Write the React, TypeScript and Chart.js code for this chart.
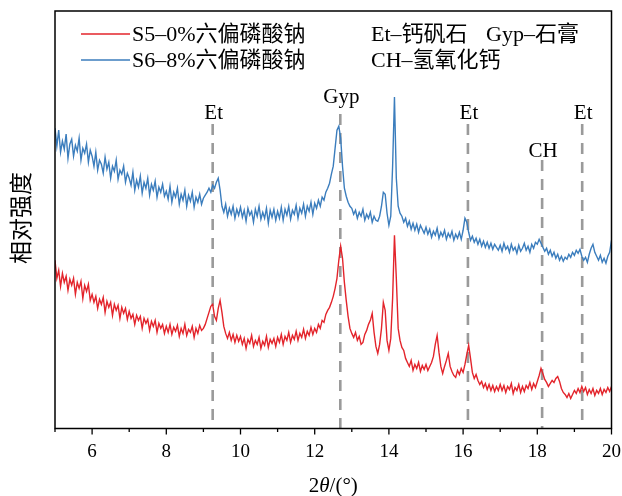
import React, { useEffect, useRef } from "react";
import { Chart, registerables } from "chart.js";

Chart.register(...registerables);

// 2θ grid (°), 0.05° sampling from 5 to 20
const twoTheta: number[] = Array.from({ length: 301 }, (_, i) => Math.round((5 + i * 0.05) * 100) / 100);

// S5 – 0% sodium hexametaphosphate (relative intensity, arbitrary units)
const s5: number[] = [
  168, 150, 158, 142, 155, 146, 152, 138, 149, 143, 150, 134, 146, 140, 147, 130, 143, 137, 144, 128,
  134, 126, 132, 120, 129, 124, 131, 116, 127, 121, 126, 113, 124, 118, 123, 110, 121, 115, 120, 109,
  117, 110, 114, 104, 113, 108, 112, 100, 110, 105, 109, 98, 107, 102, 108, 96, 105, 100, 104, 95,
  102, 96, 104, 94, 101, 97, 103, 92, 100, 95, 104, 93, 99, 96, 102, 91, 100, 95, 103, 98,
  100, 104, 110, 116, 122, 124, 112, 108, 120, 128, 116, 102, 95, 90, 96, 88, 94, 86, 93, 87,
  92, 84, 90, 80, 89, 85, 93, 82, 88, 84, 91, 80, 87, 83, 92, 81, 89, 85, 90, 82,
  91, 86, 94, 84, 92, 88, 96, 86, 93, 89, 97, 88, 95, 91, 99, 90, 97, 93, 101, 94,
  100, 96, 104, 100, 108, 106, 114, 118, 121, 126, 132, 140, 150, 168, 182, 170, 146, 128, 112, 100,
  95, 91, 96, 88, 92, 84, 86, 94, 98, 104, 108, 115, 96, 82, 75, 84, 100, 126, 118, 88,
  78, 90, 130, 193, 150, 100, 88, 81, 78, 70, 66, 62, 68, 58, 64, 60, 66, 57, 63, 59,
  64, 58, 62, 66, 72, 84, 93, 76, 62, 55, 62, 68, 75, 62, 57, 53, 51, 58, 54, 60,
  56, 64, 74, 83, 70, 56, 50, 54, 48, 44, 47, 41, 45, 39, 44, 38, 43, 37, 42, 38,
  44, 38, 43, 36, 42, 39, 45, 35, 41, 38, 44, 36, 42, 37, 43, 40, 46, 39, 45, 41,
  47, 53, 60, 55, 49, 46, 42, 45, 48, 46, 50, 52, 47, 40, 36, 34, 31, 35, 30, 34,
  38, 35, 40, 36, 42, 37, 41, 34, 39, 35, 40, 33, 38, 35, 40, 34, 39, 36, 41, 37,
  42,
];

// S6 – 8% sodium hexametaphosphate
const s6: number[] = [
  300, 282, 298, 276, 287, 279, 294, 270, 284, 289, 272, 283, 277, 290, 268, 280, 275, 284, 266, 278,
  272, 262, 276, 258, 268, 264, 255, 271, 259, 266, 250, 262, 257, 268, 249, 258, 254, 262, 246, 255,
  250, 243, 256, 238, 248, 241, 252, 235, 246, 240, 250, 233, 244, 238, 247, 231, 241, 236, 244, 232,
  237, 229, 242, 226, 236, 231, 240, 224, 234, 228, 238, 222, 233, 227, 236, 221, 231, 226, 234, 224,
  230, 233, 236, 240, 236, 243, 240, 246, 250, 238, 222, 216, 224, 212, 220, 214, 222, 210, 219, 213,
  221, 211, 218, 207, 220, 213, 217, 206, 219, 212, 222, 209, 216, 210, 220, 205, 218, 211, 219, 208,
  217, 210, 221, 208, 219, 213, 222, 209, 218, 214, 223, 210, 220, 215, 224, 212, 222, 217, 226, 214,
  225, 220, 228, 222, 231, 228, 236, 240, 245, 254, 262, 280, 298, 302, 290, 262, 240, 232, 226, 222,
  220, 214, 218, 210, 216, 212, 219, 208, 214, 210, 216, 206, 212, 208, 207, 212, 222, 236, 234, 215,
  203, 212, 262, 331, 250, 222, 215, 212, 206, 210, 202, 207, 199, 205, 198, 204, 196, 203, 199, 195,
  201, 194, 199, 191, 197, 193, 200, 190, 196, 192, 198, 189, 195, 191, 197, 188, 194, 190, 196, 189,
  198, 210, 206, 196, 188, 192, 186, 190, 184, 189, 182, 187, 181, 186, 180, 185, 179, 184, 181, 178,
  183, 177, 185, 179, 182, 176, 184, 178, 181, 175, 183, 177, 180, 185, 178, 182, 176, 184, 180, 186,
  184, 189, 185, 181, 177, 180, 174, 178, 172, 176, 170, 174, 168, 172, 167, 171, 169, 174, 171, 176,
  173, 178, 175, 179, 172, 168, 171, 166, 174, 180, 184, 176, 172, 168, 173, 166, 170, 165, 172, 176,
  188,
];

const seriesNames = ["S5\u20130%六偏磷酸钠", "S6\u20138%六偏磷酸钠"];
const seriesColors = ["#e3242b", "#3b7dbd"];

const xTickValues = [6, 8, 10, 12, 14, 16, 18, 20];
const peakPositions = [9.25, 12.69, 16.13, 18.13, 19.21];
const peakLabels = ["Et", "Gyp", "Et", "CH", "Et"];
const phaseKey = ["Et\u2013钙矾石", "Gyp\u2013石膏", "CH\u2013氢氧化钙"];

const SERIF = '"Liberation Serif", "Noto Sans CJK SC", serif';

const overlay = {
  id: "overlay",
  beforeDatasetsDraw(chart: any) {
    const { ctx, chartArea, scales } = chart;
    const x = scales.x;
    ctx.save();
    ctx.strokeStyle = "#9a9a9a";
    ctx.lineWidth = 2.6;
    ctx.setLineDash([11, 8]);
    peakPositions.forEach((p, i) => {
      const px = x.getPixelForValue(p);
      const top = peakLabels[i] === "CH" ? 160 : peakLabels[i] === "Gyp" ? 114 : 124;
      ctx.beginPath();
      ctx.moveTo(px, top);
      ctx.lineTo(px, chartArea.bottom);
      ctx.stroke();
    });
    ctx.restore();
  },
  afterDraw(chart: any) {
    const { ctx, chartArea, scales } = chart;
    const x = scales.x;
    const { left, right, top, bottom } = chartArea;
    ctx.save();
    // frame
    ctx.strokeStyle = "#000";
    ctx.lineWidth = 1.5;
    ctx.setLineDash([]);
    ctx.strokeRect(left, top, right - left, bottom - top);
    // ticks
    ctx.lineWidth = 1.3;
    for (let v = 5; v <= 20; v++) {
      const px = x.getPixelForValue(v);
      const len = v % 2 === 0 ? 6 : 3.5;
      ctx.beginPath();
      ctx.moveTo(px, bottom);
      ctx.lineTo(px, bottom + len);
      ctx.stroke();
    }
    // peak labels
    ctx.fillStyle = "#000";
    ctx.font = `21px ${SERIF}`;
    ctx.textAlign = "center";
    ctx.textBaseline = "middle";
    peakPositions.forEach((p, i) => {
      const px = x.getPixelForValue(p);
      const lab = peakLabels[i];
      const y = lab === "CH" ? 151 : lab === "Gyp" ? 97 : 113;
      ctx.fillText(lab, px + 1, y);
    });
    // legend
    ctx.font = `22px ${SERIF}`;
    ctx.textAlign = "left";
    const rows = [34, 60];
    seriesNames.forEach((name, i) => {
      ctx.strokeStyle = seriesColors[i];
      ctx.lineWidth = 1.6;
      ctx.beginPath();
      ctx.moveTo(81, rows[i]);
      ctx.lineTo(130, rows[i]);
      ctx.stroke();
      ctx.fillText(name, 132, rows[i] + 1);
    });
    ctx.fillText(phaseKey[0], 371, rows[0] + 1);
    ctx.fillText(phaseKey[1], 486, rows[0] + 1);
    ctx.fillText(phaseKey[2], 371, rows[1] + 1);
    // x title 2θ/(°)
    const parts: [string, boolean][] = [["2", false], ["\u03b8", true], ["/(\u00b0)", false]];
    const fs = 21;
    let total = 0;
    const widths = parts.map(([t, it]) => {
      ctx.font = `${it ? "italic " : ""}${fs}px ${SERIF}`;
      const w = ctx.measureText(t).width;
      total += w;
      return w;
    });
    let cx = (left + right) / 2 - total / 2;
    parts.forEach(([t, it], i) => {
      ctx.font = `${it ? "italic " : ""}${fs}px ${SERIF}`;
      ctx.fillText(t, cx, 486);
      cx += widths[i];
    });
    // y title
    ctx.translate(23, 218);
    ctx.rotate(-Math.PI / 2);
    ctx.textAlign = "center";
    ctx.font = `23px ${SERIF}`;
    ctx.fillText("相对强度", 0, 0);
    ctx.restore();
  },
};

export default function App() {
  const ref = useRef<HTMLCanvasElement | null>(null);
  useEffect(() => {
    if (!ref.current) return;
    const chart = new Chart(ref.current, {
      type: "line",
      data: {
        datasets: [
          {
            label: seriesNames[0],
            data: twoTheta.map((t, i) => ({ x: t, y: s5[i] })),
            borderColor: seriesColors[0],
            borderWidth: 1.4,
            pointRadius: 0,
            tension: 0,
          },
          {
            label: seriesNames[1],
            data: twoTheta.map((t, i) => ({ x: t, y: s6[i] })),
            borderColor: seriesColors[1],
            borderWidth: 1.4,
            pointRadius: 0,
            tension: 0,
          },
        ],
      },
      options: {
        responsive: false,
        animation: false,
        layout: { padding: { left: 55, right: 10.5, top: 11, bottom: 0 } },
        plugins: { legend: { display: false }, tooltip: { enabled: false } },
        scales: {
          x: {
            type: "linear",
            min: 5,
            max: 20,
            grid: { display: false, drawTicks: false },
            border: { display: false },
            afterBuildTicks: (scale: any) => {
              scale.ticks = xTickValues.map((v) => ({ value: v }));
            },
            afterFit: (scale: any) => {
              scale.height = 67.5;
              scale.paddingLeft = 0;
              scale.paddingRight = 0;
            },
            ticks: {
              autoSkip: false,
              maxRotation: 0,
              padding: 12,
              color: "#000",
              font: { family: SERIF, size: 19 },
            },
          },
          y: {
            display: false,
            min: 0,
            max: 417,
          },
        },
      },
      plugins: [overlay],
    });
    return () => chart.destroy();
  }, []);
  return (
    <div style={{ position: "fixed", left: 0, top: 0, width: 622, height: 496, background: "#fff" }}>
      <canvas ref={ref} width={622} height={496} />
    </div>
  );
}
